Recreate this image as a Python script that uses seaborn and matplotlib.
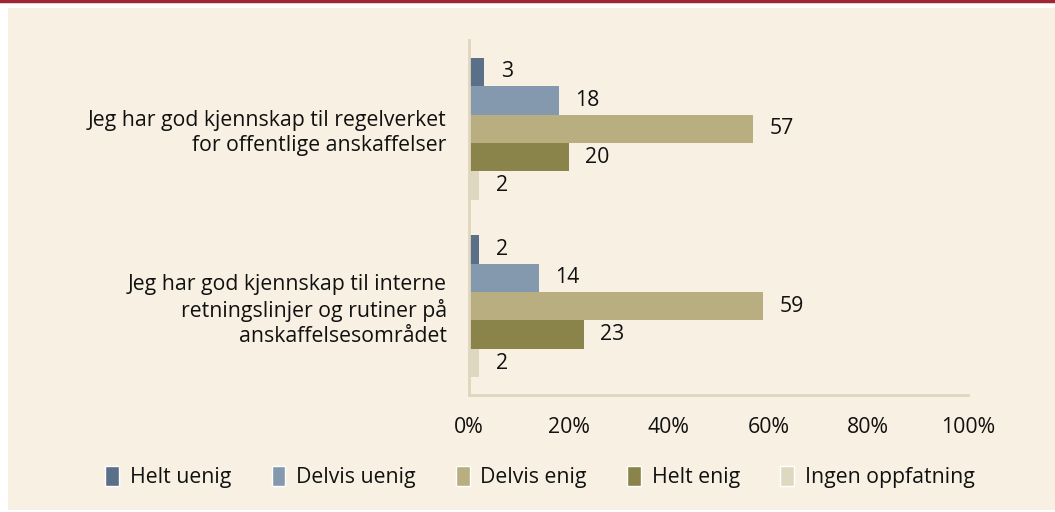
import pandas as pd
import seaborn as sns
import matplotlib.pyplot as plt
from matplotlib.patches import Rectangle
from matplotlib.lines import Line2D

statements = ["Jeg har god kjennskap til regelverket\nfor offentlige anskaffelser",
              "Jeg har god kjennskap til interne\nretningslinjer og rutiner på\nanskaffelsesområdet"]
answers = ["Helt uenig", "Delvis uenig", "Delvis enig", "Helt enig", "Ingen oppfatning"]
regelverk = [3, 18, 57, 20, 2]
interne = [2, 14, 59, 23, 2]
farger = ["#5a6f88", "#8499ad", "#b8ae7f", "#8a834a", "#dfd8c0"]

rows = []
for s, vals in zip(statements, [regelverk, interne]):
    for a, v in zip(answers, vals):
        rows.append({"Utsagn": s, "Svar": a, "Prosent": v})
df = pd.DataFrame(rows)

bg = "#f8f0e2"
ink = "#111111"
fs = 15.3
sns.set_style("white")
plt.rcParams["font.family"] = ["Open Sans", "DejaVu Sans"]
plt.rcParams["text.color"] = ink
plt.rcParams["xtick.color"] = ink
plt.rcParams["ytick.color"] = ink

fig = plt.figure(figsize=(10.55, 5.12), dpi=100, facecolor="white")
fig.patches.append(Rectangle((8 / 1055, 0.004), 1, 1 - 8 / 512 - 0.004,
                             transform=fig.transFigure, facecolor=bg, edgecolor="none", zorder=-10))
fig.lines.append(Line2D([0, 1], [1 - 1 / 512, 1 - 1 / 512], transform=fig.transFigure,
                        color="#9e2832", lw=2.5))

ax = fig.add_axes([469 / 1055, 1 - 395 / 512, (968 - 469) / 1055, (395 - 40) / 512])
ax.set_facecolor(bg)
sns.barplot(data=df, y="Utsagn", x="Prosent", hue="Svar", palette=farger,
            orient="h", ax=ax, legend=False, width=0.8, saturation=1, linewidth=0)

for c in ax.containers:
    ax.bar_label(c, padding=12, fontsize=fs, color=ink)

ax.set_xlim(0, 100)
ax.set_xticks(range(0, 101, 20))
ax.set_xticklabels([f"{t}%" for t in range(0, 101, 20)], fontsize=fs)
ax.tick_params(axis="x", length=0, pad=16)
ax.tick_params(axis="y", length=0, pad=16, labelsize=fs)
ax.set_xlabel("")
ax.set_ylabel("")
for side in ["top", "right"]:
    ax.spines[side].set_visible(False)
for side in ["left", "bottom"]:
    ax.spines[side].set_color("#e0d6bf")
    ax.spines[side].set_linewidth(2)
for lbl in ax.get_yticklabels():
    lbl.set_linespacing(1.25)

handles = [Rectangle((0, 0), 1, 1, facecolor=f) for f in farger]
fig.legend(handles, answers, loc="center", bbox_to_anchor=(540 / 1055, 1 - 477 / 512),
           ncol=5, frameon=False, fontsize=fs, handlelength=0.65, handleheight=1.1,
           handletextpad=0.5, columnspacing=1.9)

fig.savefig("out.png", dpi=100, facecolor="white")
